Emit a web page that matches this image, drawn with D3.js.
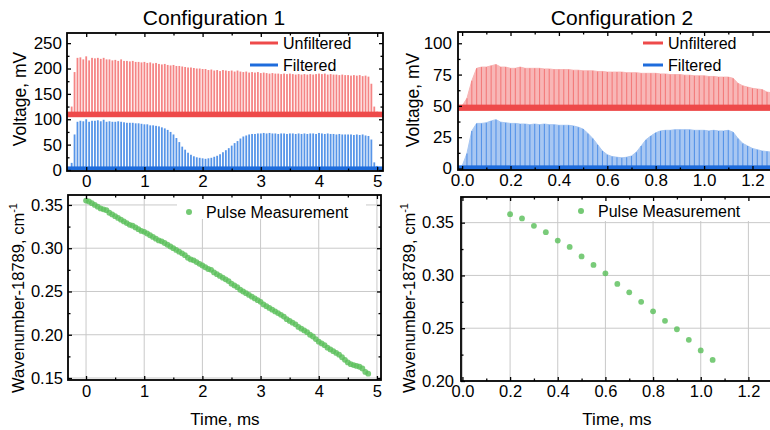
<!DOCTYPE html>
<html>
<head>
<meta charset="utf-8">
<script src="https://cdn.jsdelivr.net/npm/d3@7"></script>
<style>
body { margin: 0; background: #fff; }
text { font-family: "Liberation Sans", Arial, sans-serif; fill: #000; }
</style>
</head>
<body>
<div id="canvas"></div>
<script>
// ---- data ----
var titles = ["Configuration 1", "Configuration 2"];
var legendTop = ["Unfiltered", "Filtered"];
var legendBottom = "Pulse Measurement";

// configuration 1, pulse peaks (mV)
var pulseTime1 = [-0.25,-0.2,-0.15,-0.1,-0.05,0,0.05,0.1,0.15,0.2,0.25,0.3,0.35,0.4,0.45,0.5,0.55,0.6,0.65,0.7,0.75,0.8,0.85,0.9,0.95,
  1,1.05,1.1,1.15,1.2,1.25,1.3,1.35,1.4,1.45,1.5,1.55,1.6,1.65,1.7,1.75,1.8,1.85,1.9,1.95,
  2,2.05,2.1,2.15,2.2,2.25,2.3,2.35,2.4,2.45,2.5,2.55,2.6,2.65,2.7,2.75,2.8,2.85,2.9,2.95,
  3,3.05,3.1,3.15,3.2,3.25,3.3,3.35,3.4,3.45,3.5,3.55,3.6,3.65,3.7,3.75,3.8,3.85,3.9,3.95,
  4,4.05,4.1,4.15,4.2,4.25,4.3,4.35,4.4,4.45,4.5,4.55,4.6,4.65,4.7,4.75,4.8,4.85,4.9,4.95,5];
var unfiltered1 = [125,193,221,222,218,224,216,221,220,221,219,221,218,218,216,217,215,218,215,215,214,215,213,213,212,
  213,211,212,210,211,209,208,209,207,206,207,205,205,204,203,202,202,201,200,200,
  199,199,197,198,196,197,195,197,196,195,196,194,196,194,193,194,192,193,192,193,
  191,192,191,190,191,190,190,189,190,189,190,189,188,189,188,189,188,189,188,189,
  190,189,190,188,189,188,188,187,188,187,187,186,187,186,187,185,186,184,170,125,115];
var filtered1 = [14,70,95,97,96,100,95,97,97,98,96,99,95,96,95,95,96,95,94,93,93,93,92,92,91,
  90,90,88,88,87,86,84,82,79,75,70,63,55,46,40,34,30,27,25,24,
  23,22,23,24,26,28,31,35,39,43,48,53,57,62,66,68,70,71,71,72,
  72,73,72,73,72,72,71,72,72,71,72,72,71,72,71,72,71,72,72,71,
  73,72,71,72,71,71,70,71,70,70,70,70,69,70,69,70,68,67,60,15,8];
var baseline1 = { unfiltered: [104, 115], filtered: [0, 7] };

// configuration 2, signal envelope (mV)
var envTime2 = [0,0.02,0.04,0.06,0.08,0.1,0.12,0.14,0.16,0.18,0.2,0.22,0.24,0.26,0.28,0.3,0.32,0.34,0.36,0.38,
  0.4,0.42,0.44,0.46,0.48,0.5,0.52,0.54,0.56,0.58,0.6,0.62,0.64,0.66,0.68,0.7,0.72,0.74,0.76,0.78,
  0.8,0.82,0.84,0.86,0.88,0.9,0.92,0.94,0.96,0.98,1,1.02,1.04,1.06,1.08,1.1,1.12,1.14,1.16,1.18,
  1.2,1.22,1.24,1.26,1.28,1.3];
var unfiltered2 = [50,56,70,80,81,81,82,83,81,81,80,80,81,80,80,80,80,79.5,79.5,79,
  79,79,79,78.5,78.5,78,78,78,77.5,77.5,77,77,77,77,76.5,76.5,76.5,76,76,76,
  76,75.5,75.5,75,75,75,74.5,74.5,74,74,74,73.5,73.5,73,73,73,72,68,66,65,
  64,63.5,63,61,60.5,60];
var filtered2 = [2,12,30,36,36,36.5,38,39,37,36.5,36,36,35.5,35.5,35,35.5,35,35.5,35,35,
  34.5,34.5,34.5,34,33,31.5,28,24,19,14,11,9.5,9,8.5,9,10,13,18,23,26,
  28.5,30,30.5,30.5,31,31,31,31,30.5,30.5,30.5,30,30.5,30,30,30.5,29,24,20,18,
  16,15,14,13.5,13,12.5];
var baseline2 = { unfiltered: [46, 51], filtered: [-1, 2.5] };

// wavenumber measurements (cm-1, minus 18789)
var measTime1 = [0,0.05,0.1,0.15,0.2,0.25,0.3,0.35,0.4,0.45,0.5,0.55,0.6,0.65,0.7,0.75,0.8,0.85,0.9,0.95,
  1,1.05,1.1,1.15,1.2,1.25,1.3,1.35,1.4,1.45,1.5,1.55,1.6,1.65,1.7,1.75,1.8,1.85,1.9,1.95,
  2,2.05,2.1,2.15,2.2,2.25,2.3,2.35,2.4,2.45,2.5,2.55,2.6,2.65,2.7,2.75,2.8,2.85,2.9,2.95,
  3,3.05,3.1,3.15,3.2,3.25,3.3,3.35,3.4,3.45,3.5,3.55,3.6,3.65,3.7,3.75,3.8,3.85,3.9,3.95,
  4,4.05,4.1,4.15,4.2,4.25,4.3,4.35,4.4,4.45,4.5,4.55,4.6,4.65,4.7,4.75,4.8,4.85];
var wave1 = [0.355,0.354,0.352,0.350,0.348,0.346,0.345,0.344,0.341,0.339,0.337,0.335,0.333,0.331,0.329,0.327,0.326,0.324,0.322,0.320,
  0.319,0.317,0.315,0.313,0.311,0.309,0.308,0.306,0.304,0.302,0.300,0.298,0.296,0.294,0.292,0.289,0.287,0.286,0.284,0.282,
  0.280,0.278,0.276,0.275,0.272,0.270,0.268,0.266,0.264,0.262,0.259,0.257,0.255,0.252,0.250,0.248,0.246,0.244,0.242,0.240,
  0.238,0.235,0.233,0.231,0.229,0.227,0.225,0.223,0.221,0.218,0.216,0.214,0.212,0.209,0.207,0.205,0.203,0.200,0.198,0.195,
  0.192,0.190,0.188,0.185,0.183,0.181,0.179,0.177,0.174,0.171,0.168,0.166,0.165,0.164,0.163,0.161,0.157,0.155];
var measTime2 = [0.2,0.25,0.3,0.35,0.4,0.45,0.5,0.55,0.6,0.65,0.7,0.75,0.8,0.85,0.9,0.95,1,1.05];
var wave2 = [0.358,0.354,0.347,0.341,0.333,0.327,0.318,0.310,0.302,0.292,0.284,0.275,0.266,0.257,0.249,0.239,0.229,0.220];

// tick values
var xTicks1 = [0,1,2,3,4,5], xMinor1 = [0.5,1.5,2.5,3.5,4.5];
var xTicks2 = [0,0.2,0.4,0.6,0.8,1.0,1.2], xMinor2 = [0.1,0.3,0.5,0.7,0.9,1.1,1.3];
var vTicks1 = [0,50,100,150,200,250], vMinor1 = [25,75,125,175,225];
var vTicks2 = [0,25,50,75,100], vMinor2 = [12.5,37.5,62.5,87.5];
var wTicks1 = [0.15,0.2,0.25,0.3,0.35], wMinor1 = [0.175,0.225,0.275,0.325];
var wTicks2 = [0.2,0.25,0.3,0.35], wMinor2 = [0.225,0.275,0.325];

// ---- drawing ----
var svg = d3.select("#canvas").append("svg")
    .attr("width", 770)
    .attr("height", 430)
    .style("background", "#fff");

var RED = "#ee4a4a", RED_BAR = "#f26767", RED_LIGHT = "#f8b6b6";
var BLUE = "#1e6cdc", BLUE_BAR = "#3a82e4", BLUE_LIGHT = "#a8c7f2";
var GREEN = "#5cc05c";

function makePanel(o) {
    var x = d3.scaleLinear().domain(o.xd).range([o.left, o.right]);
    var y = d3.scaleLinear().domain(o.yd).range([o.bottom, o.top]);
    svg.append("clipPath").attr("id", "clip" + o.id)
        .append("rect")
        .attr("x", o.left).attr("y", o.top)
        .attr("width", o.right - o.left).attr("height", o.bottom - o.top);
    var g = svg.append("g");
    if (o.grid) {
        var grid = g.append("g").attr("clip-path", "url(#clip" + o.id + ")");
        grid.selectAll(".gx").data(o.xt).enter().append("line")
            .attr("x1", function (d) { return x(d) }).attr("x2", function (d) { return x(d) })
            .attr("y1", o.top).attr("y2", o.bottom)
            .style("stroke", "#c9c9c9").style("stroke-width", 1);
        grid.selectAll(".gy").data(o.yt).enter().append("line")
            .attr("y1", function (d) { return y(d) }).attr("y2", function (d) { return y(d) })
            .attr("x1", o.left).attr("x2", o.right)
            .style("stroke", "#c9c9c9").style("stroke-width", 1);
    }
    var plot = g.append("g").attr("clip-path", "url(#clip" + o.id + ")");
    return { o: o, x: x, y: y, g: g, plot: plot };
}

function drawAxes(p) {
    var o = p.o, x = p.x, y = p.y;
    var ax = p.g.append("g");
    function style(sel, size) {
        sel.select(".domain").remove();
        sel.attr("font-size", size).attr("font-family", "'Liberation Sans', Arial, sans-serif");
        sel.selectAll("line").style("stroke", "#000").style("stroke-width", 1.3);
        sel.selectAll("text").style("fill", "#000");
    }
    ax.append("g").attr("transform", "translate(0," + o.bottom + ")")
        .call(d3.axisBottom(x).tickValues(o.xt).tickSize(-4).tickPadding(o.xpad).tickFormat(d3.format(o.xf)))
        .call(style, o.fs);
    ax.append("g").attr("transform", "translate(0," + o.bottom + ")")
        .call(d3.axisBottom(x).tickValues(o.xm).tickSize(-2.5).tickFormat(""))
        .call(style, o.fs);
    ax.append("g").attr("transform", "translate(0," + o.top + ")")
        .call(d3.axisTop(x).tickValues(o.xt).tickSize(-4).tickFormat(""))
        .call(style, o.fs);
    ax.append("g").attr("transform", "translate(0," + o.top + ")")
        .call(d3.axisTop(x).tickValues(o.xm).tickSize(-2.5).tickFormat(""))
        .call(style, o.fs);
    ax.append("g").attr("transform", "translate(" + o.left + ",0)")
        .call(d3.axisLeft(y).tickValues(o.yt).tickSize(-4).tickPadding(o.ypad).tickFormat(d3.format(o.yf)))
        .call(style, o.fs);
    ax.append("g").attr("transform", "translate(" + o.left + ",0)")
        .call(d3.axisLeft(y).tickValues(o.ym).tickSize(-2.5).tickFormat(""))
        .call(style, o.fs);
    ax.append("g").attr("transform", "translate(" + o.right + ",0)")
        .call(d3.axisRight(y).tickValues(o.yt).tickSize(-4).tickFormat(""))
        .call(style, o.fs);
    ax.append("g").attr("transform", "translate(" + o.right + ",0)")
        .call(d3.axisRight(y).tickValues(o.ym).tickSize(-2.5).tickFormat(""))
        .call(style, o.fs);
    ax.append("rect")
        .attr("x", o.left).attr("y", o.top)
        .attr("width", o.right - o.left).attr("height", o.bottom - o.top)
        .style("fill", "none").style("stroke", "#000").style("stroke-width", 1.8);
}

function zip(a, b) {
    return a.map(function (d, i) { return { t: d, v: b[i] } });
}

// --- top left: pulses of configuration 1 ---
var p1 = makePanel({ id: 1, left: 67, right: 383, top: 33, bottom: 171,
    xd: [-0.33, 5.1], yd: [-2, 270], xt: xTicks1, xm: xMinor1, yt: vTicks1, ym: vMinor1,
    xf: "d", yf: "d", fs: 17, xpad: 4, ypad: 5 });

function pulseBars(p, data, base, color, op) {
    p.plot.append("g").selectAll("rect").data(data).enter().append("rect")
        .attr("x", function (d) { return p.x(d.t) - 0.9 })
        .attr("width", 1.8)
        .attr("y", function (d) { return p.y(d.v) })
        .attr("height", function (d) { return Math.max(0, p.y(base) - p.y(d.v)) })
        .style("fill", color)
        .style("fill-opacity", op);
}
function band(p, range, color) {
    p.plot.append("rect")
        .attr("x", p.o.left).attr("width", p.o.right - p.o.left)
        .attr("y", p.y(range[1])).attr("height", p.y(range[0]) - p.y(range[1]))
        .style("fill", color);
}
pulseBars(p1, zip(pulseTime1, unfiltered1), 110, RED_BAR, 0.8);
band(p1, baseline1.unfiltered, RED);
pulseBars(p1, zip(pulseTime1, filtered1), 0, BLUE_BAR, 0.85);
band(p1, baseline1.filtered, BLUE);
drawAxes(p1);

// --- top right: envelope of configuration 2 ---
var p2 = makePanel({ id: 2, left: 458, right: 782, top: 32, bottom: 170,
    xd: [-0.017, 1.322], yd: [-1.2, 109], xt: xTicks2, xm: xMinor2, yt: vTicks2, ym: vMinor2,
    xf: ".1f", yf: "d", fs: 17, xpad: 4, ypad: 6 });

function envelope(p, data, base, light, dark) {
    var area = d3.area()
        .x(function (d) { return p.x(d.t) })
        .y0(p.y(base))
        .y1(function (d) { return p.y(d.v) });
    p.plot.append("path").datum(data).attr("d", area)
        .style("fill", light).style("stroke", light).style("stroke-width", 1);
    p.plot.append("g").selectAll("line").data(data).enter().append("line")
        .attr("x1", function (d) { return p.x(d.t) }).attr("x2", function (d) { return p.x(d.t) })
        .attr("y1", p.y(base)).attr("y2", function (d) { return p.y(d.v) })
        .style("stroke", dark).style("stroke-width", 1.1).style("stroke-opacity", 0.75);
}
envelope(p2, zip(envTime2, unfiltered2), 48.5, RED_LIGHT, RED_BAR);
band(p2, baseline2.unfiltered, RED);
envelope(p2, zip(envTime2, filtered2), 0.5, BLUE_LIGHT, BLUE_BAR);
band(p2, baseline2.filtered, BLUE);
drawAxes(p2);

// legends for the top panels
function topLegend(x0, x1) {
    var cols = [RED, BLUE];
    legendTop.forEach(function (name, i) {
        var yy = 43 + i * 22;
        svg.append("line").attr("x1", x0).attr("x2", x1).attr("y1", yy).attr("y2", yy)
            .style("stroke", cols[i]).style("stroke-width", 3);
        svg.append("text").attr("x", x1 + 5).attr("y", yy + 6)
            .attr("font-size", 16).text(name);
    });
}
topLegend(250, 278);
topLegend(643, 663);

// --- bottom panels: wavenumber ---
var p3 = makePanel({ id: 3, left: 68, right: 381, top: 195, bottom: 380, grid: true,
    xd: [-0.31, 5.07], yd: [0.1477, 0.3615], xt: xTicks1, xm: xMinor1, yt: wTicks1, ym: wMinor1,
    xf: "d", yf: ".2f", fs: 16.5, xpad: 5, ypad: 5 });
var p4 = makePanel({ id: 4, left: 461, right: 782, top: 197, bottom: 381, grid: true,
    xd: [-0.006, 1.341], yd: [0.2, 0.3743], xt: xTicks2, xm: xMinor2, yt: wTicks2, ym: wMinor2,
    xf: ".1f", yf: ".2f", fs: 16.5, xpad: 4, ypad: 7 });

function bottomLegend(p, bx, bw, cx, cy) {
    p.g.append("rect").attr("x", bx).attr("y", p.o.top + 1).attr("width", bw).attr("height", 23)
        .style("fill", "#fff");
    p.g.append("circle").attr("cx", cx).attr("cy", cy).attr("r", 3)
        .style("fill", GREEN).style("fill-opacity", 0.85);
    p.g.append("text").attr("x", cx + 17).attr("y", cy + 6).attr("font-size", 16).text(legendBottom);
}
function dots(p, data) {
    p.plot.append("g").selectAll("circle").data(data).enter().append("circle")
        .attr("cx", function (d) { return p.x(d.t) })
        .attr("cy", function (d) { return p.y(d.v) })
        .attr("r", 2.9)
        .style("fill", GREEN)
        .style("fill-opacity", 0.82);
}
bottomLegend(p3, 177, 189, 189, 212);
dots(p3, zip(measTime1, wave1));
drawAxes(p3);
bottomLegend(p4, 567, 215, 581, 211);
dots(p4, zip(measTime2, wave2));
drawAxes(p4);

// --- titles and axis labels ---
svg.append("text").attr("x", 214).attr("y", 25).attr("text-anchor", "middle").attr("font-size", 21).text(titles[0]);
svg.append("text").attr("x", 622).attr("y", 25).attr("text-anchor", "middle").attr("font-size", 21).text(titles[1]);

function yLabel(x, y, size, sup, txt) {
    var t = svg.append("text").attr("transform", "translate(" + x + "," + y + ") rotate(-90)")
        .attr("text-anchor", "middle").attr("font-size", size).text(txt);
    if (sup) t.append("tspan").attr("font-size", 11).attr("dy", -7).text(sup);
}
yLabel(26, 99, 17.5, null, "Voltage, mV");
yLabel(419, 100, 17.5, null, "Voltage, mV");
yLabel(24, 298, 16.5, "-1", "Wavenumber-18789, cm");
yLabel(415, 298, 16.5, "-1", "Wavenumber-18789, cm");

svg.append("text").attr("x", 225).attr("y", 425).attr("text-anchor", "middle").attr("font-size", 17).text("Time, ms");
svg.append("text").attr("x", 617).attr("y", 425).attr("text-anchor", "middle").attr("font-size", 17).text("Time, ms");
</script>
</body>
</html>
